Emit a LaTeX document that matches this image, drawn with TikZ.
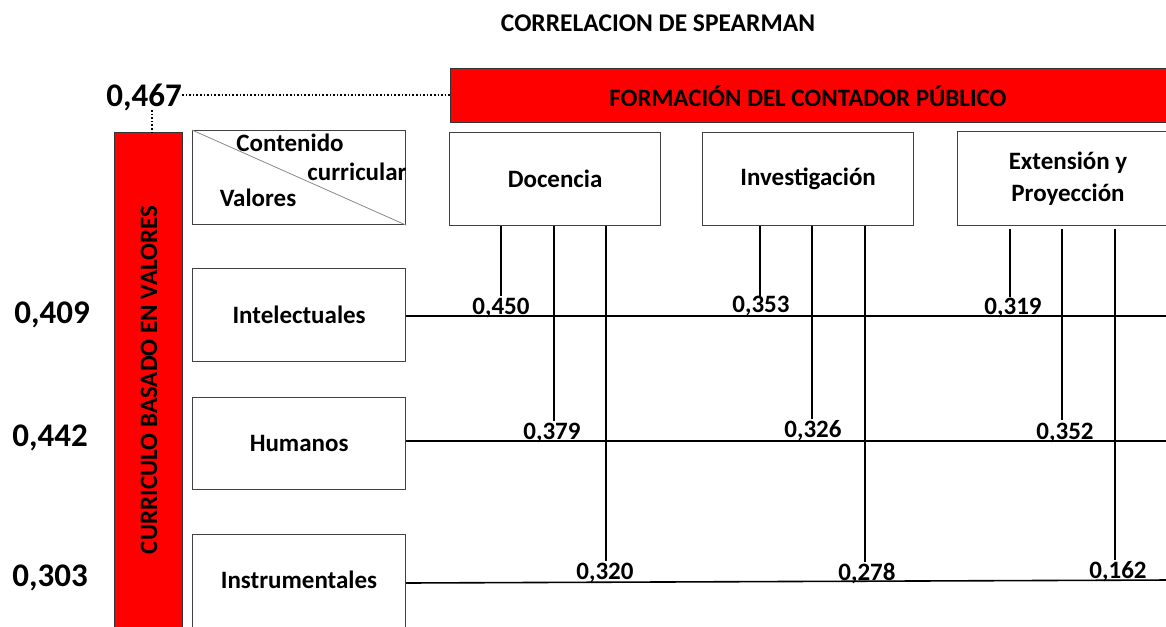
\documentclass[tikz,border=0pt]{standalone}
\usepackage{fontspec}
\setmainfont{Carlito}
\begin{document}
\begin{tikzpicture}[x=1pt,y=-1pt,
  box/.style={draw=black!75, line width=1.2pt, fill=white, inner sep=0pt},
  redbar/.style={draw=black!80, line width=1pt, fill=red, inner sep=0pt},
  boxtxt/.style={font=\fontsize{25}{32}\selectfont\bfseries, align=center},
  big/.style={font=\fontsize{33}{36}\selectfont\bfseries, inner sep=0pt},
  val/.style={font=\fontsize{25}{28}\selectfont\bfseries, inner sep=0pt, anchor=base},
  conn/.style={line width=1.6pt, black},
  dot/.style={line width=1.6pt, dotted, black}]
\useasboundingbox (0,0) rectangle (1166,626);
% title
\node[font=\fontsize{25.5}{28}\selectfont\bfseries] (title) at (658,23) {CORRELACION DE SPEARMAN};
% red bars
\node[redbar, anchor=north west, minimum width=740pt, minimum height=54pt] (fcp) at (450,68) {};
\node[font=\fontsize{25}{28}\selectfont\bfseries] (fcptxt) at (808,96) {FORMACIÓN DEL CONTADOR PÚBLICO};
\node[redbar, anchor=north west, minimum width=68pt, minimum height=510pt] (cbv) at (114,132) {};
\node[rotate=90, font=\fontsize{25}{28}\selectfont\bfseries] (cbvtxt) at (149,380) {CURRICULO BASADO EN VALORES};
% 0,467
\node[big] (g) at (144,97) {0,467};
\draw[dot] (g.east |- 0,95) -- (fcp.west |- 0,95);
\draw[dot] (152,110) -- (cbv.north -| 152,0);
% header box
\node[box, anchor=north west, minimum width=213pt, minimum height=94pt] (hdr) at (192,130) {};
\draw[black!45, line width=0.8pt] (hdr.north west) -- (hdr.south east);
\node[boxtxt] (h1) at (290,143) {Contenido};
\node[boxtxt] (h2) at (357,172) {curricular};
\node[boxtxt] (h3) at (258,198) {Valores};
% column boxes
\node[box, anchor=north west, minimum width=211pt, minimum height=93pt, boxtxt] (doc) at (449,132) {Docencia};
\node[box, anchor=north west, minimum width=211pt, minimum height=93pt, boxtxt] (inv) at (702,132) {Investigación};
\node[box, anchor=north west, minimum width=230pt, minimum height=94pt] (ext) at (957,131) {};
\node[boxtxt] (exttxt) at (1068,179) {Extensión y\\Proyección};
% row boxes
\node[box, anchor=north west, minimum width=213pt, minimum height=93pt, boxtxt] (r1) at (192,268) {Intelectuales};
\node[box, anchor=north west, minimum width=213pt, minimum height=92pt, boxtxt] (r2) at (192,397) {Humanos};
\node[box, anchor=north west, minimum width=213pt, minimum height=110pt] (r3) at (192,534) {};
\node[boxtxt] (r3txt) at (299,580) {Instrumentales};
% row totals
\node[big] (t1) at (52,315) {0,409};
\node[big] (t2) at (50,438) {0,442};
\node[big] (t3) at (50,578) {0,303};
% horizontal lines
\coordinate (e1) at (1170,316);
\coordinate (e2) at (1170,441);
\coordinate (e3) at (1170,580);
\draw[conn] (r1.east |- e1) -- (e1);
\draw[conn] (r2.east |- e2) -- (e2);
\draw[conn] (r3.east |- 0,583) -- (e3);
% values
\node[val] (v11) at (501,314) {0,450};
\node[val] (v21) at (552,439) {0,379};
\node[val] (v31) at (605,579) {0,320};
\node[val] (v12) at (761,312) {0,353};
\node[val] (v22) at (813,437) {0,326};
\node[val] (v32) at (867,580) {0,278};
\node[val] (v13) at (1013,314) {0,319};
\node[val] (v23) at (1065,439) {0,352};
\node[val] (v33) at (1118,578) {0,162};
% vertical connectors
\draw[conn] (doc.south -| 501,0) -- (501,296);
\draw[conn] (doc.south -| 554,0) -- (554,421);
\draw[conn] (doc.south -| 606,0) -- (606,561);
\draw[conn] (inv.south -| 760,0) -- (760,296);
\draw[conn] (inv.south -| 812,0) -- (812,419);
\draw[conn] (inv.south -| 865,0) -- (865,562);
\draw[conn] (1010,229) -- (1010,297);
\draw[conn] (1062,229) -- (1062,420);
\draw[conn] (1115,229) -- (1115,560);
\end{tikzpicture}
\end{document}
